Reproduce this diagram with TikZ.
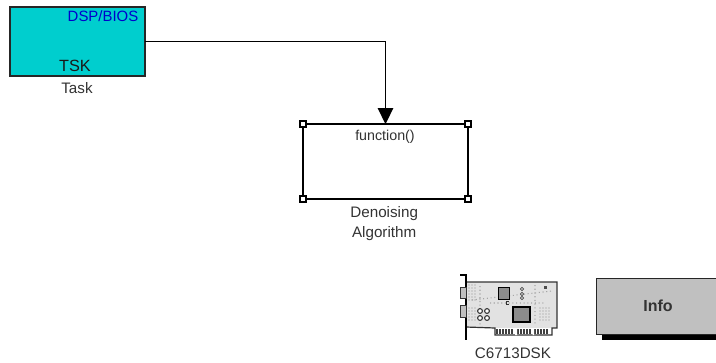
\documentclass[tikz,border=0pt]{standalone}
\usepackage{fontspec}
\setmainfont{Liberation Sans}
\usepackage{xcolor}
\usetikzlibrary{arrows.meta,positioning}
\definecolor{taskcyan}{RGB}{0,206,206}
\definecolor{infogray}{RGB}{192,192,192}
\definecolor{pcbgray}{RGB}{226,226,226}

\begin{document}
\begin{tikzpicture}[
  x=0.75pt, y=-0.75pt,
  every node/.style={inner sep=0pt, outer sep=0pt},
  label/.style={font=\fontsize{11.4pt}{15pt}\selectfont, text=black!80, align=center},
  taskbox/.style={draw=black!85, line width=1.1pt, fill=taskcyan, minimum width=101pt, minimum height=52pt},
  funcbox/.style={draw=black, line width=1.9pt, fill=white, minimum width=124pt, minimum height=56pt},
  infobox/.style={draw=black!85, line width=0.9pt, fill=infogray, minimum width=92pt, minimum height=41.5pt},
  handle/.style={draw=black, line width=1.6pt, fill=white, minimum size=4.6pt},
  arr/.style={-{Triangle[length=12pt, width=11.5pt]}, line width=1.1pt, draw=black},
  chip/.style={draw=black, line width=0.7pt, fill=black!45},
  pad/.style={draw=black!75, line width=0.6pt, fill=white}
]
\useasboundingbox (0,0) rectangle (716,362);

\node[taskbox] at (77.5,41.5) (task) {};
\node[label, text=blue!80!black, font=\fontsize{11.2pt}{12pt}\selectfont] at (103,16) (tasktop) {DSP/BIOS};
\node[label, text=black!90, font=\fontsize{12.2pt}{13pt}\selectfont] at (75,66) (tasktype) {TSK};
\node[label] at (77,88) (taskname) {Task};

\node[funcbox] at (385.5,161.5) (algo) {};
\node[label, font=\fontsize{10.7pt}{12pt}\selectfont] at (385,136.5) (algotop) {function()};
\node[label, below=5.8pt of algo, xshift=-1pt] (algoname) {Denoising\\Algorithm};
\foreach \corner in {north west,north east,south west,south east}
  \node[handle] at (algo.\corner) {};

\draw[arr] (task.east) -| (algo.north);

\fill[pcbgray] (466,282) rectangle (557,328);
\draw[gray!70, line width=0.8pt, dotted] (472,300) -- (552,291) (480,286) -- (480,326) (490,303) -- (545,303) (535,285) -- (535,326);
\draw[black!80, line width=0.9pt] (466,282) -- (557,282) -- (557,328) -- (552,328) -- (552,335)
  -- (495,335) -- (495,328) -- (466,327);
\draw[black, line width=1.2pt] (460,275) -- (466,275) -- (466,340);
\draw[black!80, line width=0.7pt, fill=gray!50] (460,287) rectangle (466,298) (460,305) rectangle (466,317);
\foreach \px in {497,500,...,513,518,521,...,530,535,538,...,549}
  \draw[black!75, line width=0.8pt] (\px,329) -- (\px,334);
\fill[white] (515,329) rectangle (517,335) (532.5,329) rectangle (534,335);
\draw[chip] (498,287) rectangle (509,299);
\draw[chip, line width=0.9pt] (513,307) rectangle (530,322);
\fill[black!70] (544,285.5) rectangle (547,288.5);
\foreach \ry in {289,294,298} \draw[pad] (522,\ry) circle (1.6);
\foreach \cx in {480,487} \foreach \ry in {311,318} \draw[black!80, line width=0.8pt, fill=white] (\cx,\ry) circle (2.4);
\draw[black!80, line width=0.7pt] (509,304) arc (45:315:1.8);
\foreach \cx in {540,543,...,549} \foreach \ry in {308,311,...,320} \fill[black!45] (\cx,\ry) circle (0.7);
\foreach \cx in {469,472,475} \foreach \ry in {285,288,...,300} \fill[black!45] (\cx,\ry) circle (0.7);
\foreach \cx in {469,472,475} \foreach \ry in {308,311,...,320} \fill[black!45] (\cx,\ry) circle (0.7);
\node[label] at (513,353.5) (cardname) {C6713DSK};

\fill[black] (602,334) rectangle (716,340);
\node[infobox] at (658,306.5) (info) {};
\node[label, font=\bfseries\fontsize{12pt}{13pt}\selectfont] at (658,306) (infotext) {Info};
\end{tikzpicture}
\end{document}
